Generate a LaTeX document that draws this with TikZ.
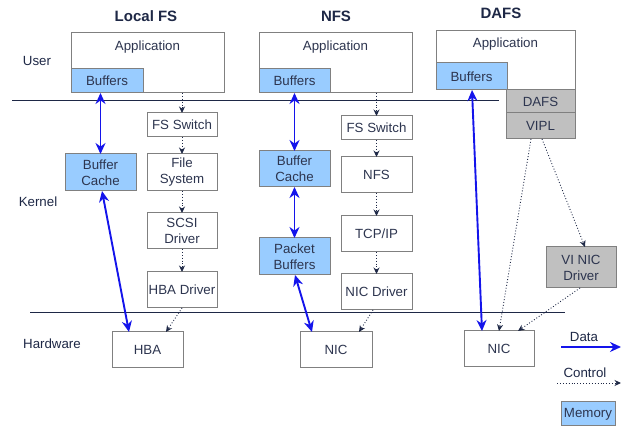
\documentclass[tikz,border=0pt]{standalone}
\usepackage{fontspec}
\setmainfont{Liberation Sans}
\usetikzlibrary{arrows.meta}
\definecolor{navy}{RGB}{30,40,70}
\definecolor{boxgray}{RGB}{128,128,128}
\definecolor{memblue}{RGB}{153,204,255}
\definecolor{dafsgray}{RGB}{192,192,192}
\definecolor{datablue}{RGB}{20,20,235}
\tikzset{
  box/.style={draw=boxgray, line width=1pt, fill=white, inner sep=0pt, outer sep=0pt,
    text=navy!85!gray, align=center, font=\fontsize{13.3}{16}\selectfont},
  membox/.style={box, fill=memblue},
  graybox/.style={box, fill=dafsgray},
  plain/.style={text=navy, font=\fontsize{13.3}{16}\selectfont, inner sep=0pt},
  title/.style={text=navy, font=\fontsize{15}{18}\selectfont\bfseries, inner sep=0pt},
  data/.style={draw=datablue, line width=1.9pt, {Stealth[length=11pt,width=10pt]}-{Stealth[length=11pt,width=10pt]}},
  dataone/.style={draw=datablue, line width=1.9pt, -{Stealth[length=11pt,width=10pt]}},
  ctrl/.style={draw=navy, line width=0.9pt, dotted, -{Stealth[length=6.5pt,width=6pt]}},
  layer/.style={draw=navy, line width=1pt}
}
\begin{document}
\begin{tikzpicture}[x=1pt,y=-1pt]
\useasboundingbox (0,0) rectangle (632,427);
% titles and layer labels
\node[title] (tl) at (146,16) {Local FS};
\node[title] (tn) at (336,16) {NFS};
\node[title] (td) at (501,13) {DAFS};
\node[plain] (user) at (37,61) {User};
\node[plain] (kernel) at (38,202) {Kernel};
\node[plain] (hw) at (52,344) {Hardware};
% layer lines
\coordinate (l1a) at (12,101); \coordinate (l1b) at (499,101);
\coordinate (l2a) at (30,313); \coordinate (l2b) at (565,313);
\draw[layer] (l1a) -- (l1b);
\draw[layer] (l2a) -- (l2b);
% Local FS
\node[box, minimum width=153pt, minimum height=60pt] (lapp) at (147.5,63) {};
\node[plain, text=navy!85!gray] (lappt) at (147.5,47) {Application};
\node[membox, minimum width=72pt, minimum height=24pt] (lbuf) at (107,81) {Buffers};
\node[box, minimum width=70pt, minimum height=24pt] (lfss) at (182,125) {FS Switch};
\node[box, minimum width=70pt, minimum height=37pt] (lfsys) at (182,172.5) {File\\System};
\node[box, minimum width=70pt, minimum height=36pt] (lscsi) at (182,231) {SCSI\\Driver};
\node[box, minimum width=70pt, minimum height=36pt] (lhbad) at (182,290) {HBA Driver};
\node[membox, minimum width=71pt, minimum height=37pt] (lcache) at (100.5,172.5) {Buffer\\Cache};
\node[box, minimum width=71pt, minimum height=36pt] (hba) at (147.5,350) {HBA};
\draw[ctrl] (lfss.north |- lapp.south) -- (lfss.north);
\draw[ctrl] (lfss) -- (lfsys);
\draw[ctrl] (lfsys) -- (lscsi);
\draw[ctrl] (lscsi) -- (lhbad);
\draw[ctrl] (lhbad.south) -- ([xshift=18.5pt]hba.north);
\draw[data] (lbuf.south -| lcache.north) -- (lcache.north);
\draw[data] ([xshift=1.5pt]lcache.south) -- ([xshift=-18.5pt]hba.north);
% NFS
\node[box, minimum width=153pt, minimum height=60pt] (napp) at (335.5,63) {};
\node[plain, text=navy!85!gray] (nappt) at (335.5,47) {Application};
\node[membox, minimum width=71pt, minimum height=24pt] (nbuf) at (294.5,81) {Buffers};
\node[membox, minimum width=71pt, minimum height=36pt] (ncache) at (294.5,169) {Buffer\\Cache};
\node[membox, minimum width=71pt, minimum height=37pt] (npkt) at (294.5,256.5) {Packet\\Buffers};
\node[box, minimum width=71pt, minimum height=24pt] (nfss) at (376.5,128) {FS Switch};
\node[box, minimum width=71pt, minimum height=36pt] (nnfs) at (376.5,175) {NFS};
\node[box, minimum width=71pt, minimum height=36pt] (ntcp) at (376.5,234) {TCP/IP};
\node[box, minimum width=71pt, minimum height=36pt] (nnicd) at (376.5,292) {NIC Driver};
\node[box, minimum width=72pt, minimum height=36pt] (nnic) at (336,350) {NIC};
\draw[ctrl] (nfss.north |- napp.south) -- (nfss.north);
\draw[ctrl] (nfss) -- (nnfs);
\draw[ctrl] (nnfs) -- (ntcp);
\draw[ctrl] (ntcp) -- (nnicd);
\draw[ctrl] ([xshift=-3.5pt]nnicd.south) -- ([xshift=23pt]nnic.north);
\draw[data] (nbuf) -- (ncache);
\draw[data] (ncache) -- (npkt);
\draw[data] ([xshift=0.5pt]npkt.south) -- ([xshift=-24pt]nnic.north);
% DAFS
\node[box, minimum width=139pt, minimum height=59pt] (dapp) at (505.5,60.5) {};
\node[plain, text=navy!85!gray] (dappt) at (505.5,44) {Application};
\node[membox, minimum width=71pt, minimum height=27pt] (dbuf) at (471.5,76.5) {Buffers};
\node[graybox, minimum width=69pt, minimum height=23pt] (ddafs) at (540.5,101.5) {DAFS};
\node[graybox, minimum width=69pt, minimum height=26pt] (dvipl) at (540.5,126) {VIPL};
\node[graybox, minimum width=70pt, minimum height=41pt] (dvinic) at (581,267.5) {VI NIC\\Driver};
\node[box, minimum width=70pt, minimum height=36pt] (dnic) at (499,349) {NIC};
\draw[ctrl] ([xshift=-9.5pt]dvipl.south) -- (dnic.north);
\draw[ctrl] ([xshift=1.5pt]dvipl.south) -- ([xshift=4pt]dvinic.north);
\draw[ctrl] ([xshift=-1pt]dvinic.south) -- ([xshift=19pt]dnic.north);
\draw[data] ([xshift=0.5pt]dbuf.south) -- ([xshift=-17pt]dnic.north);
% legend
\node[plain] (ldata) at (584,337) {Data};
\coordinate (da) at (561,347); \coordinate (db) at (621,347);
\draw[dataone] (da) -- (db);
\node[plain] (lctrl) at (585,373) {Control};
\coordinate (ca) at (557,383); \coordinate (cb) at (621,383);
\draw[ctrl] (ca) -- (cb);
\node[membox, minimum width=54pt, minimum height=24pt] (lmem) at (588,414) {Memory};
\end{tikzpicture}
\end{document}
